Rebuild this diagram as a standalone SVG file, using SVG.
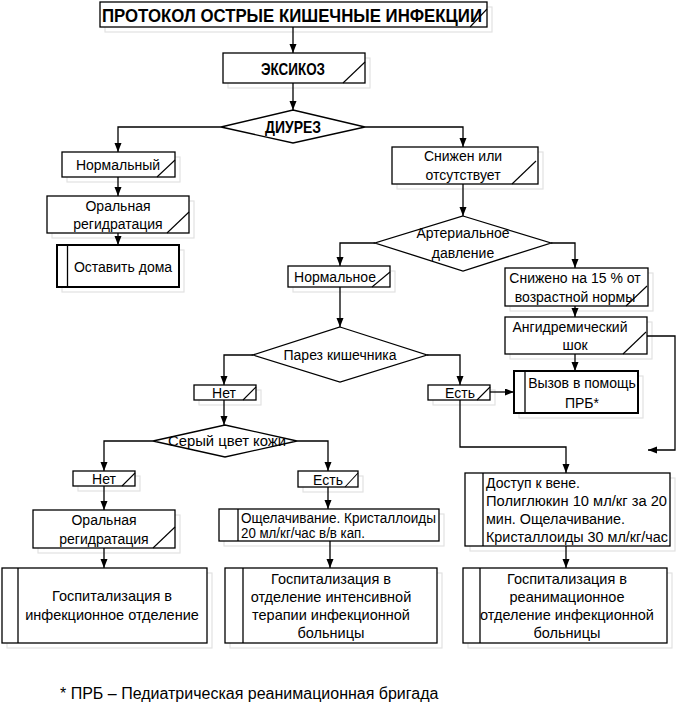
<svg xmlns="http://www.w3.org/2000/svg" width="676" height="708" viewBox="0 0 676 708">
<style>
.b{fill:#fff;stroke:#000;stroke-width:1.3}
.bb{fill:#fff;stroke:#000;stroke-width:2}
.sh{fill:none;stroke:#e2e2e2;stroke-width:1.2}
.sl{fill:none;stroke:#000;stroke-width:1.1}
.c{fill:none;stroke:#000;stroke-width:1.3}
text{font-family:"Liberation Sans",Arial,sans-serif;font-size:14px;fill:#000}
.m{text-anchor:middle}
.h{font-weight:bold;font-size:16px}
.g{font-size:14.5px}
</style>
<defs>
<marker id="ar" markerUnits="userSpaceOnUse" markerWidth="10" markerHeight="8" refX="9" refY="3.5" orient="auto">
<path d="M0,0 L9,3.5 L0,7 z" fill="#000"/>
</marker>
</defs>
<rect width="676" height="708" fill="#fff"/>
<g id="shadows" transform="translate(5,5)">
<rect class="sh" x="100" y="2" width="387" height="25"/>
<rect class="sh" x="223" y="53" width="142" height="30"/>
<rect class="sh" x="62" y="152" width="113" height="25"/>
<rect class="sh" x="47" y="196" width="142" height="37"/>
<rect class="sh" x="57" y="245" width="122" height="42"/>
<rect class="sh" x="392" y="147" width="146" height="37"/>
<rect class="sh" x="288" y="266" width="102" height="21"/>
<rect class="sh" x="505" y="268" width="143" height="38"/>
<rect class="sh" x="505" y="317" width="142" height="37"/>
<rect class="sh" x="514" y="371" width="124" height="42"/>
<rect class="sh" x="194" y="385" width="62" height="15"/>
<rect class="sh" x="428" y="385" width="62" height="15"/>
<rect class="sh" x="73" y="471" width="62" height="15"/>
<rect class="sh" x="298" y="471" width="60" height="16"/>
<rect class="sh" x="33" y="510" width="142" height="38"/>
<rect class="sh" x="219" y="509" width="220" height="32"/>
<rect class="sh" x="465" y="473" width="205" height="73"/>
<rect class="sh" x="2" y="568" width="205" height="75"/>
<rect class="sh" x="225" y="568" width="212" height="75"/>
<rect class="sh" x="463" y="568" width="204" height="75"/>
</g>
<g id="connectors">
<path class="c" d="M293,27 V53" marker-end="url(#ar)"/>
<path class="c" d="M293,83 V110" marker-end="url(#ar)"/>
<path class="c" d="M221,127 H118 V152" marker-end="url(#ar)"/>
<path class="c" d="M365,127 H463 V147" marker-end="url(#ar)"/>
<path class="c" d="M118,177 V196" marker-end="url(#ar)"/>
<path class="c" d="M118,233 V245" marker-end="url(#ar)"/>
<path class="c" d="M463,184 V216" marker-end="url(#ar)"/>
<path class="c" d="M375,243 H340 V266" marker-end="url(#ar)"/>
<path class="c" d="M551,243 H575 V268" marker-end="url(#ar)"/>
<path class="c" d="M340,287 V327" marker-end="url(#ar)"/>
<path class="c" d="M575,306 V317" marker-end="url(#ar)"/>
<path class="c" d="M575,354 V371" marker-end="url(#ar)"/>
<path class="c" d="M647,336 H675 V450 H648" marker-end="url(#ar)"/>
<path class="c" d="M253,355 H224 V385" marker-end="url(#ar)"/>
<path class="c" d="M427,355 H460 V385" marker-end="url(#ar)"/>
<path class="c" d="M490,392 H514" marker-end="url(#ar)"/>
<path class="c" d="M460,400 V447 H566 V473" marker-end="url(#ar)"/>
<path class="c" d="M224,400 V425" marker-end="url(#ar)"/>
<path class="c" d="M153,441 H104 V471" marker-end="url(#ar)"/>
<path class="c" d="M297,441 H328 V471" marker-end="url(#ar)"/>
<path class="c" d="M104,486 V510" marker-end="url(#ar)"/>
<path class="c" d="M104,548 V568" marker-end="url(#ar)"/>
<path class="c" d="M328,487 V509" marker-end="url(#ar)"/>
<path class="c" d="M330,541 V568" marker-end="url(#ar)"/>
<path class="c" d="M566,546 V568" marker-end="url(#ar)"/>
</g>
<g id="title">
<rect class="b" x="100" y="2" width="387" height="25"/>
<path class="sl" d="M470,27 L487,9"/>
<text class="h" x="102" y="22" textLength="380" lengthAdjust="spacingAndGlyphs" style="font-size:19px">ПРОТОКОЛ ОСТРЫЕ КИШЕЧНЫЕ ИНФЕКЦИИ</text>
</g>
<g id="exsikoz">
<rect class="b" x="223" y="53" width="142" height="30"/>
<path class="sl" d="M343,83 L365,62"/>
<text class="h" x="261" y="75" textLength="64" lengthAdjust="spacingAndGlyphs" style="font-size:17px">ЭКСИКОЗ</text>
</g>
<g id="diurez">
<polygon class="b" points="293,110 365,127 293,143 221,127"/>
<text class="h" x="265" y="133" textLength="56" lengthAdjust="spacingAndGlyphs" style="font-size:17px">ДИУРЕЗ</text>
</g>
<g id="normalny">
<rect class="b" x="62" y="152" width="113" height="25"/>
<path class="sl" d="M157,177 L175,160"/>
<text class="m" x="118" y="170">Нормальный</text>
</g>
<g id="oral1">
<rect class="b" x="47" y="196" width="142" height="37"/>
<path class="sl" d="M167,233 L189,212"/>
<text class="m" x="118" y="211">Оральная</text>
<text class="m" x="118" y="229">регидратация</text>
</g>
<g id="ostavit">
<rect class="bb" x="57" y="245" width="122" height="42"/>
<path class="c" d="M67.5,245 V287"/>
<text class="m" x="123" y="272">Оставить дома</text>
</g>
<g id="snizhen">
<rect class="b" x="392" y="147" width="146" height="37"/>
<path class="sl" d="M512,184 L536,161"/>
<text class="m" x="463" y="161">Снижен или</text>
<text class="m" x="463" y="180">отсутствует</text>
</g>
<g id="ad">
<polygon class="b" points="463,216 551,243 463,271 375,243"/>
<text class="m" x="463" y="238">Артериальное</text>
<text class="m" x="463" y="258">давление</text>
</g>
<g id="normalnoe">
<rect class="b" x="288" y="266" width="102" height="21"/>
<path class="sl" d="M372,287 L390,272"/>
<text class="m" x="335" y="282">Нормальное</text>
</g>
<g id="snizheno">
<rect class="b" x="505" y="268" width="143" height="38"/>
<path class="sl" d="M626,306 L647,286"/>
<text class="m" x="575" y="283">Снижено на 15 % от</text>
<text class="m" x="575" y="302">возрастной нормы</text>
</g>
<g id="angidr">
<rect class="b" x="505" y="317" width="142" height="37"/>
<path class="sl" d="M623,354 L646,332"/>
<text class="m" x="570" y="332">Ангидремический</text>
<text class="m" x="575" y="350">шок</text>
</g>
<g id="vyzov">
<rect class="bb" x="514" y="371" width="124" height="42"/>
<path class="c" d="M525,371 V413"/>
<text class="m" x="582" y="388">Вызов в помощь</text>
<text class="m" x="582" y="408">ПРБ*</text>
</g>
<g id="parez">
<polygon class="b" points="340,327 427,355 340,382 253,355"/>
<text class="m" x="340" y="360">Парез кишечника</text>
</g>
<g id="net1">
<rect class="b" x="194" y="385" width="62" height="15"/>
<path class="sl" d="M243,400 L256,387"/>
<text class="m" x="224" y="398">Нет</text>
</g>
<g id="est1">
<rect class="b" x="428" y="385" width="62" height="15"/>
<path class="sl" d="M477,400 L490,387"/>
<text class="m" x="460" y="398">Есть</text>
</g>
<g id="sery">
<polygon class="b" points="225,425 297,441 225,457 153,441"/>
<text class="m" x="227" y="446" textLength="118" lengthAdjust="spacingAndGlyphs">Серый цвет кожи</text>
</g>
<g id="net2">
<rect class="b" x="73" y="471" width="62" height="15"/>
<path class="sl" d="M122,486 L135,473"/>
<text class="m" x="104" y="484">Нет</text>
</g>
<g id="est2">
<rect class="b" x="298" y="471" width="60" height="16"/>
<path class="sl" d="M345,487 L358,473"/>
<text class="m" x="328" y="485">Есть</text>
</g>
<g id="oral2">
<rect class="b" x="33" y="510" width="142" height="38"/>
<path class="sl" d="M153,548 L175,527"/>
<text class="m" x="104" y="525">Оральная</text>
<text class="m" x="104" y="544">регидратация</text>
</g>
<g id="oshchel">
<rect class="b" x="219" y="509" width="220" height="32"/>
<path class="c" d="M238,509 V541"/>
<text x="241" y="523" textLength="195" lengthAdjust="spacingAndGlyphs">Ощелачивание. Кристаллоиды</text>
<text x="241" y="538" textLength="124" lengthAdjust="spacingAndGlyphs">20 мл/кг/час в/в кап.</text>
</g>
<g id="dostup">
<rect class="b" x="465" y="473" width="205" height="73"/>
<path class="c" d="M483,473 V546"/>
<text x="486" y="488">Доступ к вене.</text>
<text x="486" y="506" textLength="181" lengthAdjust="spacingAndGlyphs">Полиглюкин 10 мл/кг за 20</text>
<text x="486" y="524" textLength="139" lengthAdjust="spacingAndGlyphs">мин. Ощелачивание.</text>
<text x="486" y="542" textLength="182" lengthAdjust="spacingAndGlyphs">Кристаллоиды  30 мл/кг/час</text>
</g>
<g id="gosp1">
<rect class="b" x="2" y="568" width="205" height="75"/>
<path class="c" d="M18,568 V643"/>
<text class="m g" x="112" y="601">Госпитализация в</text>
<text class="m g" x="112" y="620">инфекционное отделение</text>
</g>
<g id="gosp2">
<rect class="b" x="225" y="568" width="212" height="75"/>
<path class="c" d="M243,568 V643"/>
<text class="m g" x="331" y="584">Госпитализация в</text>
<text class="m g" x="331" y="602">отделение интенсивной</text>
<text class="m g" x="331" y="620">терапии инфекционной</text>
<text class="m g" x="331" y="638">больницы</text>
</g>
<g id="gosp3">
<rect class="b" x="463" y="568" width="204" height="75"/>
<path class="c" d="M480,568 V643"/>
<text class="m g" x="567" y="584">Госпитализация в</text>
<text class="m g" x="567" y="602">реанимационное</text>
<text class="m g" x="567" y="620">отделение инфекционной</text>
<text class="m g" x="567" y="638">больницы</text>
</g>
<text x="60" y="699" style="font-size:16px">* ПРБ – Педиатрическая реанимационная бригада</text>
</svg>
